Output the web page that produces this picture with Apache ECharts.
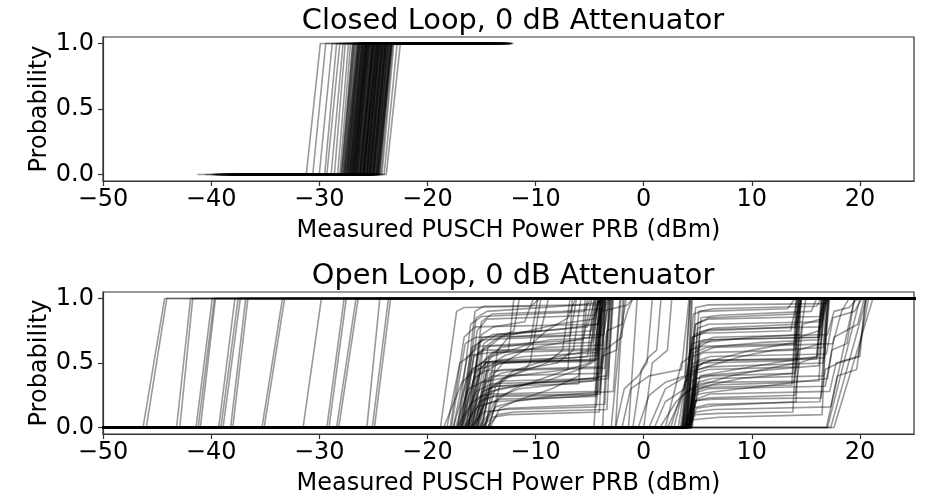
<!DOCTYPE html>
<html>
<head>
<meta charset="utf-8">
<script src="https://cdn.jsdelivr.net/npm/echarts@6/dist/echarts.min.js"></script>
<style>
html,body{margin:0;padding:0;background:#fff;}
#chart{width:928px;height:497px;}
</style>
</head>
<body>
<div id="chart"></div>
<script>
// ---------------- DATA ----------------
const titles = ['Closed Loop, 0 dB Attenuator', 'Open Loop, 0 dB Attenuator'];
const xLabel = 'Measured PUSCH Power PRB (dBm)';
const yLabel = 'Probability';
const xTicks = [-50, -40, -30, -20, -10, 0, 10, 20];
const yTicks = [0, 0.5, 1];

// Closed loop: each curve = [min, start of rise, end of rise, max] (dBm)
const riseLevels = [0, 0, 1, 1];
const closedCurves = [
  [-41.2, -31.2, -29.9, -13.5], [-40.0, -30.0, -28.8, -18.0], [-38.5, -29.5, -28.4, -20.5],
  [-37.0, -29.3, -28.1, -15.0], [-36.0, -28.9, -27.8, -19.5], [-39.5, -28.6, -27.6, -12.1],
  [-39.7, -28.3, -27.3, -14.0], [-38.8, -28.1, -27.1, -21.0], [-35.5, -27.9, -26.9, -16.5],
  [-39.0, -27.8, -26.8, -12.3], [-34.0, -27.7, -26.7, -20.0], [-37.5, -27.6, -26.5, -18.5],
  [-36.5, -27.5, -26.4, -13.0], [-33.5, -27.4, -26.3, -22.0], [-38.0, -27.3, -26.2, -17.0],
  [-35.0, -27.2, -26.1, -12.5], [-32.5, -27.1, -26.0, -20.5], [-37.0, -27.0, -25.9, -15.5],
  [-39.3, -26.9, -25.8, -19.0], [-34.5, -26.8, -25.7, -12.2], [-36.0, -26.7, -25.6, -21.5],
  [-33.0, -26.6, -25.5, -14.5], [-38.5, -26.5, -25.4, -18.0], [-35.5, -26.4, -25.3, -12.8],
  [-31.5, -26.3, -25.2, -22.5], [-37.5, -26.2, -25.1, -16.0], [-34.0, -26.1, -25.0, -13.5],
  [-36.5, -26.0, -24.9, -20.0], [-39.0, -25.9, -24.8, -12.4], [-32.0, -25.8, -24.7, -17.5],
  [-35.0, -25.7, -24.6, -21.0], [-37.0, -25.6, -24.5, -14.0], [-33.5, -25.5, -24.4, -19.5],
  [-38.0, -25.4, -24.3, -12.6], [-30.5, -25.3, -24.2, -22.0], [-36.0, -25.2, -24.1, -15.0],
  [-34.5, -25.1, -24.0, -18.5], [-37.5, -25.0, -23.9, -12.9], [-32.5, -24.9, -23.8, -20.5],
  [-35.5, -24.8, -23.7, -16.5], [-39.5, -24.7, -23.6, -13.2], [-33.0, -24.6, -23.5, -21.5],
  [-36.5, -24.5, -23.4, -17.0], [-31.0, -24.4, -23.3, -14.5], [-38.5, -24.3, -23.2, -19.0],
  [-34.0, -24.2, -23.1, -12.2], [-33.0, -24.0, -22.8, -20.0], [-35.0, -23.8, -22.5, -16.0],
  [-36.2, -27.45, -26.35, -15.8], [-34.8, -27.15, -26.05, -19.2], [-38.2, -26.85, -25.75, -13.8],
  [-33.8, -26.55, -25.45, -20.8], [-37.2, -26.25, -25.15, -12.7], [-35.8, -25.95, -24.85, -17.8],
  [-32.8, -25.65, -24.55, -21.8], [-36.8, -25.35, -24.25, -14.2], [-34.2, -25.05, -23.95, -18.8],
  [-38.8, -24.75, -23.65, -12.9], [-35.2, -24.45, -23.35, -16.2], [-33.2, -26.05, -24.95, -20.2],
  [-37.8, -25.55, -24.45, -15.2], [-34.6, -24.95, -23.85, -19.8], [-36.6, -26.65, -25.55, -13.1],
  [-37.3, -27.95, -26.75, -14.8], [-35.7, -27.65, -26.5, -19.7], [-38.9, -27.35, -26.2, -12.6],
  [-33.3, -27.05, -25.9, -21.2], [-36.9, -26.75, -25.6, -16.7], [-34.3, -26.45, -25.3, -13.3],
  [-39.1, -26.15, -25.0, -20.3], [-32.7, -25.85, -24.7, -15.7], [-37.7, -25.55, -24.4, -12.9],
  [-35.3, -25.25, -24.1, -18.3], [-33.9, -24.95, -23.8, -21.7], [-38.3, -24.65, -23.5, -14.3],
  [-36.1, -27.8, -26.6, -17.3], [-34.9, -27.2, -26.0, -12.4], [-37.9, -26.6, -25.4, -20.7],
  [-33.7, -26.0, -24.8, -16.3], [-36.3, -25.4, -24.2, -13.7], [-39.6, -24.8, -23.6, -19.3],
  [-35.1, -27.5, -26.25, -21.3], [-32.3, -26.9, -25.65, -14.7], [-38.1, -26.3, -25.05, -18.7],
  [-34.7, -25.7, -24.45, -12.3], [-36.7, -25.1, -23.85, -16.9], [-33.1, -24.5, -23.25, -20.9],
  [-37.1, -27.0, -25.8, -13.9], [-35.9, -26.2, -25.0, -17.9], [-34.1, -25.3, -24.1, -21.9],
  [-38.7, -24.6, -23.4, -15.3], [-36.4, -26.8, -25.6, -12.8], [-33.6, -25.9, -24.7, -19.9],
  [-31.8, -28.0, -26.9, -22.8], [-40.5, -30.6, -29.4, -16.6],
  [-36.4, -27.7, -26.4, -15.1], [-34.4, -27.4, -26.1, -18.9], [-38.4, -27.1, -25.8, -12.5],
  [-33.4, -26.8, -25.5, -21.1], [-37.4, -26.5, -25.2, -16.4], [-35.4, -26.2, -24.9, -13.4],
  [-39.4, -25.9, -24.6, -19.6], [-32.4, -25.6, -24.3, -15.6], [-36.8, -25.3, -24.0, -12.7],
  [-34.8, -25.0, -23.7, -20.4], [-38.2, -24.7, -23.4, -17.4], [-33.8, -27.6, -26.3, -14.4],
  [-37.6, -27.0, -25.7, -21.4], [-35.6, -26.4, -25.1, -12.9], [-31.6, -25.8, -24.5, -18.4],
  [-39.2, -25.2, -23.9, -15.9], [-36.2, -24.6, -23.3, -13.6], [-34.2, -26.9, -25.6, -20.6],
  [-38.6, -26.3, -25.0, -16.6], [-33.2, -25.7, -24.4, -12.4], [-37.2, -25.1, -23.8, -19.4],
  [-35.2, -26.6, -25.3, -14.1], [-32.8, -26.0, -24.7, -21.6], [-36.6, -25.4, -24.1, -17.6],
  [-39.8, -27.3, -26.0, -12.8], [-34.6, -24.9, -23.6, -18.1], [-37.0, -26.7, -25.4, -15.4],
  [-33.6, -25.5, -24.2, -20.1], [-35.8, -27.2, -25.9, -13.3], [-38.0, -25.9, -24.6, -16.1]
];

// Open loop, single-step curves: [min, start of rise, end of rise, max]
const openSimple = [
  [-60, -46.3, -44.3, 30], [-60, -46.0, -44.1, 30], [-60, -43.2, -41.9, 30], [-60, -42.9, -41.7, 30],
  [-60, -41.4, -39.9, 30], [-60, -41.2, -39.7, 30], [-60, -41.0, -39.6, 30], [-60, -39.3, -37.8, 30],
  [-60, -39.1, -37.5, 30], [-60, -38.9, -37.3, 30], [-60, -38.2, -36.8, 30], [-60, -38.0, -36.6, 30],
  [-60, -35.3, -33.4, 30], [-60, -35.1, -33.2, 30], [-60, -31.5, -29.8, 30], [-60, -29.3, -27.7, 30],
  [-60, -29.1, -27.5, 30], [-60, -28.4, -26.6, 30], [-60, -28.2, -26.4, 30], [-60, -25.6, -24.4, 30],
  [-60, -25.1, -23.6, 30], [-60, -24.9, -23.4, 30],
  [-60, -4.6, -3.9, 30], [-60, -3.8, -3.2, 30], [-60, -2.6, -1.9, 30], [-60, -1.4, -0.6, 30],
  [-60, 3.6, 4.3, 30], [-60, 3.9, 4.5, 30],
  [-60, 17.0, 20.0, 30], [-60, 17.3, 20.6, 30], [-60, 17.6, 21.2, 30], [-60, 16.9, 19.5, 30]
];

// Open loop, multi-step curves: interior [dBm, probability] points;
// every curve is 0 from openTailMin and 1 up to openTailMax
const openTailMin = -60;
const openTailMax = 30;
const openSteps = [
  [[-18.8,0],[-17.3,0.9],[-16.6,0.93],[-10.4,0.94],[-9.6,1]],
  [[-17.6,0],[-16.3,0.55],[-15.2,0.63],[-5.6,0.68],[-4.8,1]],
  [[-16.8,0],[-15.6,0.42],[-14.6,0.5],[-4.6,0.51],[-4.0,1]],
  [[-16.5,0],[-15.3,0.4],[-14.2,0.51],[-4.4,0.52],[-3.9,1]],
  [[-16.2,0],[-15.2,0.2],[-13.8,0.24],[-4.5,0.25],[-4.0,1]],
  [[-15.9,0],[-14.9,0.22],[-13.6,0.25],[-4.3,0.26],[-3.8,1]],
  [[-17.0,0],[-15.8,0.6],[-14.8,0.7],[-8,0.76],[-4.2,0.8],[-3.6,1]],
  [[-16.0,0],[-15.0,0.5],[-14.0,0.58],[-5.0,0.6],[-4.1,1]],
  [[-15.5,0],[-14.5,0.3],[-13.5,0.32],[-6.0,0.34],[-5.2,1]],
  [[-15.2,0],[-14.2,0.12],[-12.5,0.15],[-3.6,0.18],[-3.1,1]],
  [[-16.6,0],[-15.4,0.75],[-14.5,0.84],[-4.6,0.87],[-4.0,1]],
  [[-17.2,0],[-16.0,0.8],[-15.0,0.86],[-10,0.88],[-5.5,0.9],[-4.9,1]],
  [[-15.7,0],[-14.6,0.35],[-13.2,0.42],[-8.0,0.5],[-6.5,0.6],[-5.8,1]],
  [[-14.8,0],[-13.8,0.2],[-12,0.3],[-7,0.45],[-5,0.5],[-4.4,1]],
  [[-16.3,0],[-15.1,0.45],[-14,0.55],[-10.5,0.65],[-9.8,1]],
  [[-15.4,0],[-14.3,0.3],[-13,0.38],[-11,0.45],[-10.5,0.5],[-9.5,1]],
  [[-14.5,0],[-13.5,0.1],[-12,0.12],[-3.4,0.14],[-2.9,1]],
  [[-17.8,0],[-16.5,0.65],[-15.5,0.7],[-3.7,0.72],[-3.2,1]],
  [[-16.9,0],[-15.7,0.55],[-14.7,0.6],[-3.5,0.61],[-3.0,1]],
  [[-15.0,0],[-14.0,0.4],[-13.0,0.5],[-11,0.6],[-9,0.75],[-7,0.85],[-6.3,1]],
  [[-16.1,0],[-15.0,0.6],[-13.8,0.68],[-12,0.75],[-11.5,1]],
  [[-15.6,0],[-14.5,0.25],[-13.4,0.3],[-9,0.36],[-6,0.45],[-4.8,0.5],[-4.2,1]],
  [[-14.2,0],[-13.3,0.15],[-12,0.2],[-8,0.25],[-2.8,0.28],[-2.2,1]],
  [[-16.7,0],[-15.5,0.85],[-14.5,0.9],[-6,0.95],[-4,0.97],[-3.6,1]],
  [[-15.3,0],[-14.3,0.48],[-13.2,0.52],[-6.5,0.54],[-4.3,0.56],[-3.7,1]],
  [[-17.4,0],[-16.2,0.3],[-15,0.35],[-12,0.4],[-7,0.45],[-6.6,1]],
  [[-14.6,0],[-13.5,0.6],[-12.5,0.7],[-4.8,0.75],[-4.2,1]],
  [[-15.8,0],[-14.8,0.65],[-13.6,0.72],[-5.2,0.78],[-4.5,1]],
  [[-15.1,0],[-14.1,0.32],[-13,0.36],[-4.3,0.38],[-3.9,0.9],[-1.5,0.95],[-1,1]],
  [[-16.4,0],[-15.2,0.24],[-14,0.26],[-4.1,0.28],[-3.6,0.6],[-2,0.7],[-1.8,1]],
  [[-17.9,0],[-16.6,0.7],[-15.6,0.78],[-4.2,0.8],[-3.7,1]],
  [[-16.3,0],[-15.0,0.35],[-13.9,0.4],[-4.0,0.42],[-3.5,1]],
  [[-15.9,0],[-14.7,0.52],[-13.5,0.58],[-9,0.62],[-3.8,0.64],[-3.3,1]],
  [[-16.6,0],[-15.4,0.16],[-13.8,0.2],[-6,0.24],[-4.0,0.26],[-3.5,1]],
  [[-15.0,0],[-14.0,0.08],[-12.5,0.1],[-4.1,0.12],[-3.6,1]],
  [[-17.1,0],[-15.9,0.45],[-14.8,0.51],[-4.5,0.52],[-4.0,1]],
  [[-16.0,0],[-14.9,0.28],[-13.7,0.32],[-7,0.36],[-3.4,0.4],[-2.9,1]],
  [[-14.9,0],[-13.9,0.5],[-12.8,0.56],[-10,0.62],[-5,0.7],[-4.4,1]],
  [[-15.5,0],[-14.4,0.62],[-13.2,0.7],[-8,0.8],[-4.6,0.84],[-4.1,1]],
  [[-16.8,0],[-15.6,0.9],[-14.8,0.94],[-4.3,0.95],[-3.9,1]],
  [[-14.4,0],[-13.4,0.24],[-11.5,0.3],[-6,0.35],[-3.3,0.38],[-2.8,1]],
  [[-16.2,0],[-15.0,0.72],[-13.9,0.78],[-11,0.82],[-10.2,1]],
  [[-15.2,0],[-14.2,0.42],[-13,0.45],[-3.9,0.47],[-3.4,0.75],[-2,0.8],[-1.6,1]],
  [[-18.2,0],[-17.0,0.5],[-16,0.56],[-12.5,0.6],[-12,1]],
  [[-16.5,0],[-15.3,0.58],[-14.2,0.63],[-4.7,0.66],[-4.2,1]],
  [[-15.8,0],[-14.7,0.18],[-13.2,0.22],[-4.4,0.24],[-3.9,1]],
  [[-17.0,0],[-15.7,0.38],[-14.6,0.44],[-3.6,0.46],[-3.1,1]],
  [[-14.7,0],[-13.7,0.32],[-12.3,0.4],[-9,0.5],[-7.5,0.6],[-6.8,1]],
  [[-18.5,0],[-16.8,0.35],[-15.5,0.45],[-13,0.5],[-5.2,0.55],[-4.6,1]],
  [[-17.3,0],[-15.8,0.2],[-14.2,0.28],[-10,0.35],[-4.2,0.38],[-3.6,1]],
  [[-16.9,0],[-15.5,0.28],[-14,0.34],[-4.6,0.36],[-4.1,1]],
  [[-15.4,0],[-14.3,0.55],[-13.2,0.62],[-8.5,0.68],[-4.0,0.7],[-3.5,1]],
  [[-16.2,0],[-15.0,0.82],[-14.0,0.88],[-7.5,0.9],[-3.7,0.92],[-3.2,1]],
  [[-14.9,0],[-13.7,0.16],[-12,0.2],[-8.5,0.3],[-6,0.4],[-5.4,1]],
  [[-17.6,0],[-16.2,0.42],[-15,0.5],[-11,0.55],[-4.3,0.58],[-3.8,1]],
  [[-16.4,0],[-15.2,0.66],[-14,0.72],[-9.5,0.75],[-8.8,1]],
  [[-15.7,0],[-14.5,0.44],[-13.3,0.5],[-4.2,0.53],[-3.7,1]],
  [[-14.3,0],[-13.2,0.36],[-12,0.44],[-8,0.55],[-4.5,0.6],[-4.0,1]],
  [[-17.2,0],[-15.9,0.62],[-14.8,0.68],[-6.8,0.71],[-6.2,1]],
  [[-16.0,0],[-14.8,0.12],[-13,0.14],[-4.4,0.16],[-3.9,0.55],[-2.5,0.6],[-2.1,1]],
  [[-3.0,0],[-2.2,0.7],[-1.5,0.9],[-1,1]],
  [[-1.0,0],[-0.2,0.45],[0.5,0.55],[1.2,0.6],[1.6,1]],
  [[0.0,0],[0.8,0.5],[1.5,0.55],[2.2,0.6],[2.6,1]],
  [[-2.0,0],[-1.2,0.3],[0.5,0.4],[3.5,0.45],[4.2,1]],
  [[1.0,0],[2.0,0.2],[3.8,0.3],[4.2,0.5],[4.4,1]],
  [[-2.6,0],[-1.8,0.3],[-0.5,0.4],[0.3,0.5],[0.8,1]],
  [[-0.5,0],[0.5,0.25],[2,0.35],[3.8,0.4],[4.3,1]],
  [[3.6,0],[4.6,0.88],[5.4,0.9],[13.3,0.92],[14.0,1]],
  [[3.8,0],[4.6,0.5],[5.6,0.52],[16.0,0.53],[16.5,1]],
  [[3.9,0],[4.7,0.33],[6,0.35],[16.2,0.36],[16.7,1]],
  [[4.0,0],[4.8,0.21],[6.5,0.22],[16.4,0.23],[16.9,1]],
  [[4.1,0],[4.8,0.1],[7,0.11],[13.8,0.12],[14.3,1]],
  [[3.5,0],[4.4,0.46],[5.5,0.5],[14.0,0.52],[14.5,1]],
  [[3.7,0],[4.5,0.7],[5.5,0.73],[13.6,0.75],[14.2,1]],
  [[4.2,0],[5.0,0.77],[6.0,0.8],[16.5,0.82],[17.0,1]],
  [[2.5,0],[3.8,0.35],[5,0.45],[9,0.55],[12,0.6],[16.6,0.62],[17.1,1]],
  [[1.5,0],[3,0.2],[4.3,0.3],[8,0.4],[13,0.48],[14.1,0.5],[14.6,1]],
  [[4.3,0],[5.2,0.58],[6.5,0.62],[17.5,0.65],[18.3,0.9],[19,1]],
  [[4.0,0],[4.8,0.27],[6,0.3],[16.8,0.32],[17.4,0.6],[18.8,0.65],[19.5,1]],
  [[3.2,0],[4.3,0.6],[5.5,0.66],[10,0.7],[14.5,0.72],[15.0,1]],
  [[4.4,0],[5.2,0.4],[6.5,0.42],[12,0.5],[16.0,0.55],[16.4,1]],
  [[3.8,0],[4.5,0.15],[6,0.18],[16.3,0.2],[16.8,0.45],[18,0.5],[20,0.55],[20.5,1]],
  [[4.5,0],[5.3,0.85],[7,0.87],[15.5,0.9],[16,1]],
  [[2.0,0],[3.5,0.5],[4.3,0.55],[4.8,0.8],[6,0.85],[14.2,0.88],[14.6,1]],
  [[4.1,0],[4.9,0.38],[6.2,0.4],[14.0,0.42],[14.4,0.7],[16.2,0.75],[16.6,1]],
  [[3.9,0],[4.6,0.25],[5.8,0.27],[12,0.33],[17,0.38],[17.6,0.7],[19.8,0.8],[20.4,1]],
  [[4.2,0],[5.0,0.62],[6.3,0.68],[16.3,0.7],[16.8,1]],
  [[3.7,0],[4.5,0.55],[5.6,0.58],[14.0,0.6],[14.4,1]],
  [[4.0,0],[4.8,0.8],[6,0.84],[16.3,0.86],[16.8,1]],
  [[3.9,0],[4.7,0.44],[6,0.47],[16.6,0.5],[17.1,1]],
  [[4.1,0],[4.9,0.15],[6.5,0.17],[14.1,0.2],[14.5,1]],
  [[3.6,0],[4.5,0.65],[5.6,0.68],[16.1,0.7],[16.6,1]],
  [[4.3,0],[5.1,0.3],[6.4,0.33],[13.9,0.35],[14.3,0.6],[16.4,0.65],[16.9,1]],
  [[4.0,0],[4.8,0.93],[6,0.95],[16.8,0.96],[17.2,1]],
  [[2.8,0],[4.0,0.4],[5.5,0.5],[10,0.6],[14,0.66],[14.3,1]],
  [[4.2,0],[5.0,0.52],[6.2,0.55],[16.9,0.57],[17.5,0.85],[19.5,0.9],[20.2,1]],
  [[3.8,0],[4.6,0.06],[7,0.08],[16.5,0.1],[17.0,1]],
  [[4.4,0],[5.2,0.74],[6.5,0.77],[14.2,0.8],[14.6,1]],
  [[3.5,0],[4.4,0.36],[5.5,0.4],[12,0.45],[16.2,0.48],[16.7,1]],
  [[4.1,0],[4.9,0.22],[6.1,0.26],[17.2,0.28],[17.8,0.5],[19.8,0.55],[20.8,1]],
  [[0.5,0],[2,0.3],[4,0.4],[4.5,0.7],[6,0.75],[14.0,0.78],[14.4,1]],
  [[3.4,0],[4.4,0.6],[5.5,0.63],[14.1,0.65],[14.5,1]],
  [[4.0,0],[4.8,0.42],[6,0.45],[14.3,0.47],[14.7,0.8],[16.4,0.84],[16.8,1]],
  [[3.9,0],[4.7,0.72],[6,0.76],[16.4,0.78],[16.9,1]],
  [[4.2,0],[5.0,0.35],[6.3,0.38],[16.6,0.4],[17.1,1]],
  [[2.2,0],[3.6,0.25],[4.5,0.3],[9,0.38],[13.8,0.42],[14.2,1]],
  [[4.1,0],[4.9,0.48],[6.2,0.52],[16.7,0.54],[17.2,1]],
  [[3.7,0],[4.5,0.2],[6,0.23],[14.0,0.25],[14.4,0.5],[16.1,0.55],[16.5,1]],
  [[4.3,0],[5.1,0.9],[6.5,0.92],[16.0,0.94],[16.4,1]],
  [[3.8,0],[4.6,0.58],[5.8,0.62],[11,0.66],[16.2,0.68],[16.7,1]],
  [[4.0,0],[4.8,0.12],[6.5,0.14],[17.3,0.16],[17.9,0.4],[19.7,0.45],[20.6,1]],
  [[3.6,0],[4.5,0.28],[5.7,0.31],[13.7,0.33],[14.1,1]],
  [[4.4,0],[5.2,0.66],[6.5,0.7],[17.0,0.72],[17.6,0.9],[19,0.93],[19.8,1]]
];

// ---------------- CHART ----------------
const FONT = 'DejaVu Sans';
const lineColor = 'rgba(0,0,0,0.4)';
const fmtX = v => (v < 0 ? '\u2212' : '') + Math.abs(v);
const fmtY = v => v.toFixed(1);

function makeX(gi) {
  return {
    type: 'value', gridIndex: gi, min: -50, max: 25,
    name: xLabel, nameLocation: 'middle', nameGap: 38, nameMoveOverlap: false,
    nameTextStyle: { fontFamily: FONT, fontSize: 24, color: '#000' },
    axisLine: { show: true, onZero: false, lineStyle: { color: '#333', width: 1.2 } },
    axisTick: { show: true, length: 5, customValues: xTicks, lineStyle: { color: '#333', width: 1.2 } },
    axisLabel: { customValues: xTicks, formatter: fmtX, margin: 7, fontFamily: FONT, fontSize: 24, color: '#000' },
    splitLine: { show: false }
  };
}
function makeY(gi) {
  return {
    type: 'value', gridIndex: gi, min: -0.05, max: 1.05,
    name: yLabel, nameLocation: 'middle', nameGap: 51, nameRotate: 90, nameMoveOverlap: false,
    nameTextStyle: { fontFamily: FONT, fontSize: 24, color: '#000' },
    axisLine: { show: true, onZero: false, lineStyle: { color: '#333', width: 1.2 } },
    axisTick: { show: true, length: 5, customValues: yTicks, lineStyle: { color: '#333', width: 1.2 } },
    axisLabel: { customValues: yTicks, formatter: fmtY, margin: 9, fontFamily: FONT, fontSize: 24, color: '#000' },
    splitLine: { show: false }
  };
}

const series = [];
function addLine(gi, pts) {
  series.push({
    type: 'line', xAxisIndex: gi, yAxisIndex: gi, data: pts,
    showSymbol: false, symbol: 'none', silent: true, clip: true, smooth: false,
    lineStyle: { color: lineColor, width: 1.6, join: 'round', cap: 'round' },
    emphasis: { disabled: true }
  });
}
closedCurves.forEach(c => addLine(0, c.map((x, i) => [x, riseLevels[i]])));
openSimple.forEach(c => addLine(1, c.map((x, i) => [x, riseLevels[i]])));
openSteps.forEach(c => addLine(1, [[openTailMin, 0]].concat(c, [[openTailMax, 1]])));

const chart = echarts.init(document.getElementById('chart'), null, { renderer: 'canvas' });
chart.setOption({
  animation: false,
  backgroundColor: '#fff',
  textStyle: { fontFamily: FONT },
  title: [
    { text: titles[0], left: 508, top: 2, textAlign: 'center',
      textStyle: { fontFamily: FONT, fontSize: 28.8, fontWeight: 'normal', color: '#000' } },
    { text: titles[1], left: 508, top: 257, textAlign: 'center',
      textStyle: { fontFamily: FONT, fontSize: 28.8, fontWeight: 'normal', color: '#000' } }
  ],
  grid: [
    { left: 103, top: 37, width: 811, height: 144, show: true, borderColor: '#333', borderWidth: 1.2 },
    { left: 103, top: 292, width: 811, height: 142, show: true, borderColor: '#333', borderWidth: 1.2 }
  ],
  xAxis: [makeX(0), makeX(1)],
  yAxis: [makeY(0), makeY(1)],
  series: series
});
</script>
</body>
</html>
